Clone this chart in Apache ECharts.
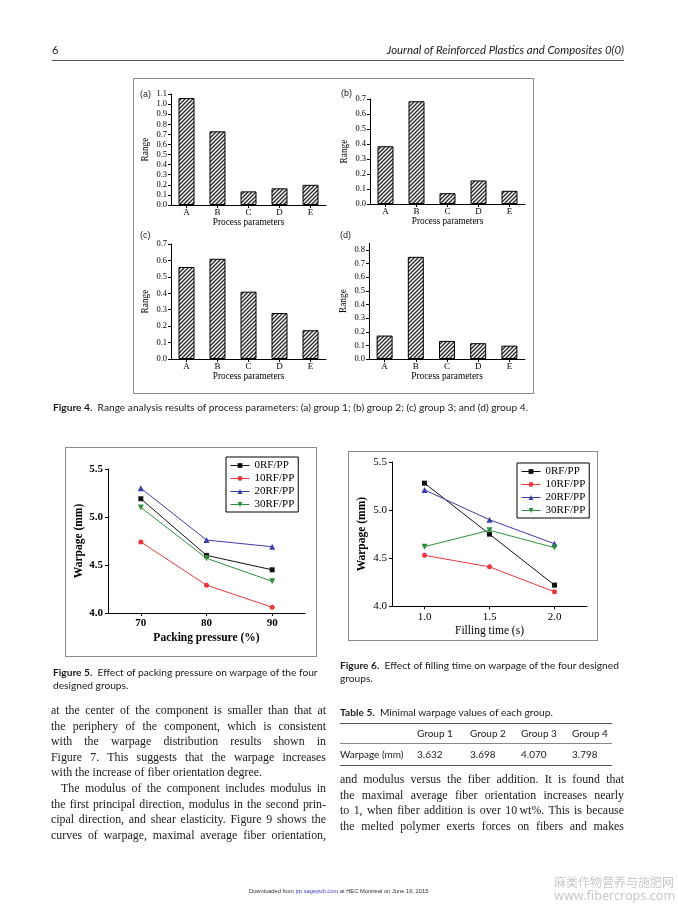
<!DOCTYPE html>
<html><head><meta charset="utf-8">
<script src="https://cdn.jsdelivr.net/npm/echarts@6/dist/echarts.min.js"></script>
<style>
html,body{margin:0;padding:0;background:#fff;}
#page{position:relative;width:678px;height:905px;overflow:hidden;background:#fff;}
#chart{position:absolute;left:0;top:0;width:678px;height:905px;}
.t{position:absolute;white-space:nowrap;color:#1a1a1a;}
.sans{font-family:Lato,"Open Sans","Liberation Sans",sans-serif;}
.serif{font-family:"Liberation Serif","Times New Roman",serif;}
.box{position:absolute;border:1px solid #8a8a8a;box-sizing:border-box;}
.col{position:absolute;font-family:"Liberation Serif","Times New Roman",serif;color:#1a1a1a;}
.col div{white-space:normal;}
.j{text-align:justify;text-align-last:justify;}
b{font-weight:700;}
</style></head>
<body><div id="page">
<div class="box" style="left:133px;top:78px;width:401px;height:316px;"></div>
<div class="box" style="left:65px;top:447px;width:252px;height:210px;"></div>
<div class="box" style="left:348px;top:451px;width:250px;height:190px;"></div>
<div id="chart"></div>

<div class="t sans" style="left:52px;top:43px;font-size:11px;line-height:14px;">6</div>
<div class="t sans" style="left:300px;top:43px;width:324px;text-align:right;font-size:11.4px;line-height:14px;font-style:italic;">Journal of Reinforced Plastics and Composites 0(0)</div>
<div style="position:absolute;left:52px;top:60px;width:572px;height:0;border-top:1px solid #555;"></div>

<div class="t" style="left:140px;top:88px;font-family:'Liberation Sans',sans-serif;font-size:9px;line-height:12px;">(a)</div>
<div class="t" style="left:341px;top:87px;font-family:'Liberation Sans',sans-serif;font-size:9px;line-height:12px;">(b)</div>
<div class="t" style="left:140px;top:229px;font-family:'Liberation Sans',sans-serif;font-size:9px;line-height:12px;">(c)</div>
<div class="t" style="left:340px;top:229px;font-family:'Liberation Sans',sans-serif;font-size:9px;line-height:12px;">(d)</div>

<div class="t sans" style="left:53px;top:401px;font-size:10.2px;line-height:13px;"><b>Figure 4.</b>&nbsp; Range analysis results of process parameters: (a) group 1; (b) group 2; (c) group 3; and (d) group 4.</div>

<div class="t sans" style="left:53px;top:666px;font-size:10.2px;line-height:13px;"><b>Figure 5.</b>&nbsp; Effect of packing pressure on warpage of the four<br>designed groups.</div>
<div class="t sans" style="left:340px;top:659px;font-size:10.2px;line-height:13px;"><b>Figure 6.</b>&nbsp; Effect of filling time on warpage of the four designed<br>groups.</div>

<div class="col" style="left:51px;top:703px;width:275px;font-size:11.9px;line-height:15.6px;">
<div class="j">at the center of the component is smaller than that at</div>
<div class="j">the periphery of the component, which is consistent</div>
<div class="j">with the warpage distribution results shown in</div>
<div class="j">Figure 7. This suggests that the warpage increases</div>
<div>with the increase of fiber orientation degree.</div>
<div class="j" style="text-indent:10px;">The modulus of the component includes modulus in</div>
<div class="j">the first principal direction, modulus in the second prin-</div>
<div class="j">cipal direction, and shear elasticity. Figure 9 shows the</div>
<div class="j">curves of warpage, maximal average fiber orientation,</div>
</div>

<div class="t sans" style="left:340px;top:706px;font-size:10.2px;line-height:13px;"><b>Table 5.</b>&nbsp; Minimal warpage values of each group.</div>
<div style="position:absolute;left:340px;top:723px;width:272px;height:0;border-top:1px solid #555;"></div>
<div class="t sans" style="left:417px;top:727px;font-size:10px;line-height:12px;">Group 1</div>
<div class="t sans" style="left:470px;top:727px;font-size:10px;line-height:12px;">Group 2</div>
<div class="t sans" style="left:521px;top:727px;font-size:10px;line-height:12px;">Group 3</div>
<div class="t sans" style="left:572px;top:727px;font-size:10px;line-height:12px;">Group 4</div>
<div style="position:absolute;left:340px;top:743px;width:272px;height:0;border-top:1px solid #888;"></div>
<div class="t sans" style="left:340px;top:748px;font-size:10px;line-height:12px;">Warpage (mm)</div>
<div class="t sans" style="left:417px;top:748px;font-size:10px;line-height:12px;">3.632</div>
<div class="t sans" style="left:470px;top:748px;font-size:10px;line-height:12px;">3.698</div>
<div class="t sans" style="left:521px;top:748px;font-size:10px;line-height:12px;">4.070</div>
<div class="t sans" style="left:572px;top:748px;font-size:10px;line-height:12px;">3.798</div>
<div style="position:absolute;left:340px;top:765px;width:272px;height:0;border-top:1px solid #555;"></div>

<div class="col" style="left:340px;top:772px;width:284px;font-size:11.9px;line-height:15.5px;">
<div class="j">and modulus versus the fiber addition. It is found that</div>
<div class="j">the maximal average fiber orientation increases nearly</div>
<div class="j">to 1, when fiber addition is over 10&#8201;wt%. This is because</div>
<div class="j">the melted polymer exerts forces on fibers and makes</div>
</div>

<div class="t" style="left:249px;top:887px;font-family:'Liberation Sans',sans-serif;font-size:5.75px;line-height:8px;color:#333;">Downloaded from <span style="color:#3a3ac8;">jrp.sagepub.com</span> at HEC Montreal on June 16, 2015</div>
<div class="t" style="left:554px;top:875px;font-family:'Noto Sans CJK SC',sans-serif;font-size:12px;line-height:14px;color:#c9c9c9;">麻类作物营养与施肥网</div>
<div class="t" style="left:554px;top:888px;font-family:'Noto Sans','Liberation Sans',sans-serif;font-size:12.6px;line-height:15px;color:#c9c9c9;">www.fibercrops.com</div>
</div>

<script>
// ---- Figure 4: range analysis ----
const categories = ['A', 'B', 'C', 'D', 'E'];
const rangeGroup1 = [1.06, 0.73, 0.135, 0.165, 0.20];
const rangeGroup2 = [0.385, 0.685, 0.072, 0.157, 0.088];
const rangeGroup3 = [0.56, 0.61, 0.41, 0.28, 0.175];
const rangeGroup4 = [0.172, 0.75, 0.133, 0.116, 0.098];
const rangeTicks4 = [0, 0.1, 0.2, 0.3, 0.4, 0.5, 0.6, 0.7, 0.8];

// ---- Figure 5: packing pressure ----
const packingPressure = [70, 80, 90];
const pp0RF = [5.19, 4.60, 4.45];
const pp10RF = [4.74, 4.29, 4.06];
const pp20RF = [5.30, 4.76, 4.69];
const pp30RF = [5.10, 4.57, 4.33];
const ppTicks = [70, 80, 90];

// ---- Figure 6: filling time ----
const fillingTime = [1.0, 1.5, 2.0];
const ft0RF = [5.28, 4.75, 4.22];
const ft10RF = [4.53, 4.41, 4.15];
const ft20RF = [5.21, 4.90, 4.65];
const ft30RF = [4.62, 4.79, 4.61];
const ftTicks = [1.0, 1.5, 2.0];

const seriesNames = ['0RF/PP', '10RF/PP', '20RF/PP', '30RF/PP'];

const serif = '"Liberation Serif","Times New Roman",serif';
const hatch = (function () {
  const c = document.createElement('canvas');
  c.width = 4; c.height = 4;
  const g = c.getContext('2d');
  g.fillStyle = '#fff'; g.fillRect(0, 0, 4, 4);
  g.strokeStyle = '#2a2a2a'; g.lineWidth = 1.4;
  g.beginPath();
  g.moveTo(0, 4); g.lineTo(4, 0);
  g.moveTo(-1, 1); g.lineTo(1, -1);
  g.moveTo(3, 5); g.lineTo(5, 3);
  g.stroke();
  return c;
})();

const grids = [
  { left: 171, top: 94, width: 155, height: 111 },
  { left: 370, top: 99, width: 155, height: 105 },
  { left: 171, top: 244, width: 155, height: 115 },
  { left: 369, top: 243.2, width: 156, height: 115.8 },
  { left: 108, top: 469, width: 197, height: 144 },
  { left: 392, top: 462, width: 195, height: 144.3 }
];

const lineStyleBlack = { color: '#000', width: 1 };

function barX(gi) {
  return {
    type: 'category', gridIndex: gi, data: categories, boundaryGap: true,
    axisLine: { show: true, lineStyle: lineStyleBlack },
    axisTick: { show: true, alignWithLabel: true, length: 3, inside: false, lineStyle: lineStyleBlack },
    axisLabel: { color: '#000', fontFamily: serif, fontSize: 9, margin: 3 },
    splitLine: { show: false },
    name: 'Process parameters', nameLocation: 'middle', nameGap: 12,
    nameTextStyle: { color: '#000', fontFamily: serif, fontSize: 9.3 }
  };
}
function barY(gi, max, extra) {
  const ax = {
    type: 'value', gridIndex: gi, min: 0, max: max, interval: 0.1,
    axisLine: { show: true, lineStyle: lineStyleBlack },
    axisTick: { show: true, length: 3, lineStyle: lineStyleBlack },
    axisLabel: { color: '#000', fontFamily: serif, fontSize: 8.5, margin: 4, formatter: v => v.toFixed(1) },
    splitLine: { show: false },
    name: 'Range', nameLocation: 'middle', nameGap: 21, nameRotate: 90,
    nameTextStyle: { color: '#000', fontFamily: serif, fontSize: 9.3 }
  };
  if (extra) {
    ax.axisLabel.customValues = extra;
    ax.axisTick.customValues = extra;
  }
  return ax;
}
function lineX(gi, min, max, ticks, name, dec, bold) {
  return {
    type: 'value', gridIndex: gi, min: min, max: max,
    axisLine: { show: true, onZero: false, lineStyle: lineStyleBlack },
    axisTick: { show: true, length: 3, customValues: ticks, lineStyle: lineStyleBlack },
    axisLabel: { color: '#000', fontFamily: serif, fontSize: 11, margin: 5, fontWeight: bold ? 'bold' : 'normal',
      customValues: ticks, formatter: v => v.toFixed(dec) },
    splitLine: { show: false },
    name: name, nameLocation: 'middle', nameGap: 19,
    nameTextStyle: { color: '#000', fontFamily: serif, fontSize: 11.5, fontWeight: bold ? 'bold' : 'normal' }
  };
}
function lineY(gi, gap, bold) {
  return {
    type: 'value', gridIndex: gi, min: 4.0, max: 5.5, interval: 0.5,
    axisLine: { show: true, onZero: false, lineStyle: lineStyleBlack },
    axisTick: { show: true, length: 3, lineStyle: lineStyleBlack },
    axisLabel: { color: '#000', fontFamily: serif, fontSize: 11, margin: 5, fontWeight: bold ? 'bold' : 'normal',
      formatter: v => v.toFixed(1) },
    splitLine: { show: false },
    name: 'Warpage (mm)', nameLocation: 'middle', nameGap: gap, nameRotate: 90,
    nameTextStyle: { color: '#000', fontFamily: serif, fontSize: 11.5, fontWeight: 'bold' }
  };
}

function barSeries(gi, data) {
  return {
    type: 'bar', xAxisIndex: gi, yAxisIndex: gi, data: data, barWidth: 16,
    itemStyle: { color: { image: hatch, repeat: 'repeat' }, borderColor: '#000', borderWidth: 1 },
    silent: true
  };
}

const lineColors = ['#111111', '#e8383c', '#3c3ca8', '#2f8f3f'];
const lineSymbols = ['rect', 'circle', 'triangle', 'path://M0,0L10,0L5,9Z'];
const lineSizes = [5, 5, 6, 6];

function lineSeries(gi, xs, ys, k) {
  return {
    type: 'line', name: seriesNames[k], xAxisIndex: gi, yAxisIndex: gi,
    data: xs.map((x, i) => [x, ys[i]]),
    symbol: lineSymbols[k], symbolSize: lineSizes[k], showSymbol: true,
    lineStyle: { color: lineColors[k], width: 1 },
    itemStyle: { color: lineColors[k], borderWidth: 0 },
    silent: true
  };
}

const legendCommon = {
  orient: 'vertical', data: seriesNames, selectedMode: false,
  itemWidth: 19, itemHeight: 6, itemGap: 2,
  padding: [3, 4, 2, 4], borderColor: '#000', borderWidth: 1, backgroundColor: '#fff',
  lineStyle: { width: 1 },
  textStyle: { color: '#000', fontFamily: serif, fontSize: 11, lineHeight: 11 }
};

const option = {
  animation: false,
  backgroundColor: 'transparent',
  grid: grids.map(g => Object.assign({ containLabel: false }, g)),
  xAxis: [
    barX(0), barX(1), barX(2), barX(3),
    lineX(4, 65, 95, ppTicks, 'Packing pressure (%)', 0, true),
    lineX(5, 0.75, 2.25, ftTicks, 'Filling time (s)', 1, false)
  ],
  yAxis: [
    barY(0, 1.1), barY(1, 0.7), barY(2, 0.7), barY(3, 0.85, rangeTicks4),
    lineY(4, 22, true), lineY(5, 24, false)
  ],
  legend: [
    Object.assign({ left: 226, top: 457 }, legendCommon),
    Object.assign({ left: 517, top: 463 }, legendCommon)
  ],
  series: [
    barSeries(0, rangeGroup1), barSeries(1, rangeGroup2), barSeries(2, rangeGroup3), barSeries(3, rangeGroup4),
    lineSeries(4, packingPressure, pp0RF, 0),
    lineSeries(4, packingPressure, pp10RF, 1),
    lineSeries(4, packingPressure, pp20RF, 2),
    lineSeries(4, packingPressure, pp30RF, 3),
    lineSeries(5, fillingTime, ft0RF, 0),
    lineSeries(5, fillingTime, ft10RF, 1),
    lineSeries(5, fillingTime, ft20RF, 2),
    lineSeries(5, fillingTime, ft30RF, 3)
  ]
};

const chart = echarts.init(document.getElementById('chart'), null, { renderer: 'canvas' });
chart.setOption(option);
</script>
</body></html>
